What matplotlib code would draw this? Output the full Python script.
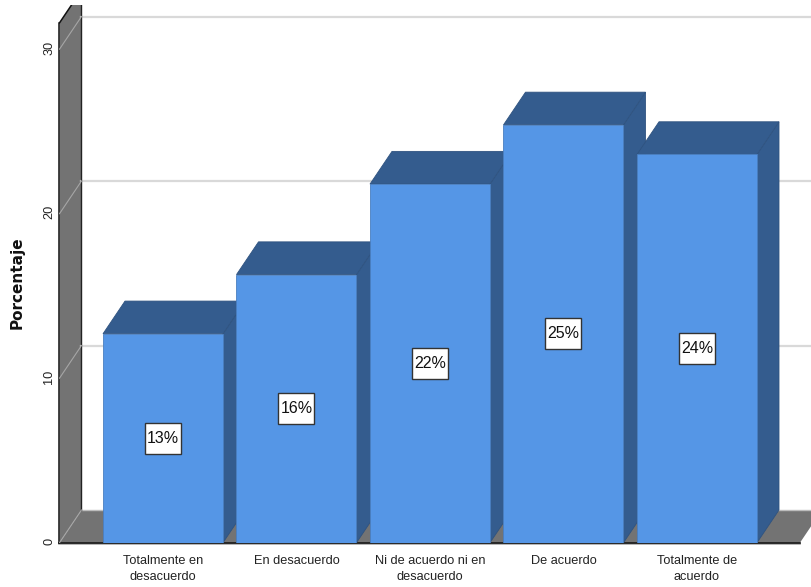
import matplotlib
matplotlib.use("Agg")
import matplotlib.pyplot as plt
from matplotlib.patches import Polygon, Rectangle
from matplotlib.transforms import ScaledTranslation

categories = ["Totalmente en\ndesacuerdo", "En desacuerdo", "Ni de acuerdo ni en\ndesacuerdo", "De acuerdo", "Totalmente de\nacuerdo"]
values = [12.7, 16.3, 21.8, 25.4, 23.6]
labels = ["13%", "16%", "22%", "25%", "24%"]
yticks = [0, 10, 20, 30]

W, H = 812, 587
PX_Y = 16.45
PX_X = 133.5
BASE = 542.7
fig = plt.figure(figsize=(W / 100, H / 100), dpi=100, facecolor="white")
ax = fig.add_axes([59.5 / W, 1 - BASE / H, (W - 59.5) / W, (BASE - 5) / H])
ax.set_xlim(-(163 - 59.5) / PX_X, (W - 163) / PX_X)
ax.set_ylim(0, (BASE - 5) / PX_Y)
dx = 22 / PX_X
dy = 32.7 / PX_Y
half = 60 / PX_X
x0 = ax.get_xlim()[0]
xend = x0 + (800 - 59.5) / PX_X
wall_top = 31.6

WALL = "#737373"
FRONT = "#5596e6"
DARK = "#345c8e"

# walls and floor
ax.add_patch(Polygon([(x0, 0), (x0, wall_top), (x0 + dx, wall_top + dy), (x0 + dx, dy)],
                     fc=WALL, ec="none", zorder=1))
ax.add_patch(Polygon([(x0, 0), (x0 + dx, dy), (xend + dx, dy), (xend, 0)],
                     fc=WALL, ec="none", zorder=1))
ax.plot([x0, xend], [0, 0], color="#111111", lw=1.2, zorder=1.5, clip_on=False)
ax.plot([x0, x0], [0, wall_top], color="#111111", lw=1.1, zorder=1.5, clip_on=False)
ax.plot([x0, x0 + dx], [wall_top, wall_top + dy], color="#111111", lw=1.1, zorder=1.5)
ax.plot([x0 + dx, x0 + dx], [dy, wall_top + dy], color="#222222", lw=1.0, zorder=1.5)
ax.plot([x0, xend], [-0.1, -0.1], color="#a8a8a8", lw=1.2, zorder=1.4, clip_on=False)

for t in yticks:
    ax.plot([x0, x0 + dx], [t, t + dy], color="#a6a6a6", lw=0.8, zorder=1.6)
    if t > 0:
        ax.plot([x0 + dx, ax.get_xlim()[1]], [t + dy, t + dy], color="#d9d9d9", lw=1.6, zorder=1.2)
ax.plot([x0 + dx, xend + dx], [dy, dy], color="#bdbdbd", lw=1.0, zorder=1.2)

# bars
for i, v in enumerate(values):
    l, r = i - half, i + half
    z = 2 + i
    ax.add_patch(Polygon([(r, 0), (r + dx, dy), (r + dx, v + dy), (r, v)],
                         fc=DARK, ec="#2f5380", lw=0.6, zorder=z))
    ax.add_patch(Polygon([(l, v), (l + dx, v + dy), (r + dx, v + dy), (r, v)],
                         fc=DARK, ec="#2f5380", lw=0.6, zorder=z))
    ax.add_patch(Polygon([(l, 0), (r, 0), (r, v), (l, v)],
                         fc=FRONT, ec="#4a7fc0", lw=0.6, zorder=z + 0.1))
    ax.add_patch(Rectangle((i - 18 / PX_X, v / 2 - 15.5 / PX_Y), 36 / PX_X, 31 / PX_Y,
                           fc="white", ec="#333333", lw=1.0, zorder=19))
    ax.text(i, v / 2, labels[i], ha="center", va="center", zorder=20,
            family="Liberation Sans", fontsize=11.5, color="#111111")

ax.set_xticks(range(len(categories)))
ax.set_xticklabels(categories, family="Liberation Sans",
                   fontsize=9.2, color="#222222", linespacing=1.4)
ax.set_yticks(yticks)
ax.set_yticklabels([str(t) for t in yticks], rotation=90, va="center",
                   family="Liberation Sans", fontsize=9.2, color="#222222")
ax.tick_params(length=0)
ax.tick_params(axis="x", pad=9)
ax.tick_params(axis="y", pad=3)
shift = ScaledTranslation(0, 1.5 / 100, fig.dpi_scale_trans)
for lab in ax.get_yticklabels():
    lab.set_transform(lab.get_transform() + shift)
for s in ax.spines.values():
    s.set_visible(False)
fig.text(17.5 / W, 1 - 283 / H, "Porcentaje", rotation=90, ha="center", va="center",
         family="DejaVu Sans", fontweight="bold", fontsize=11, color="#111111")

fig.savefig("out.png", dpi=100)
